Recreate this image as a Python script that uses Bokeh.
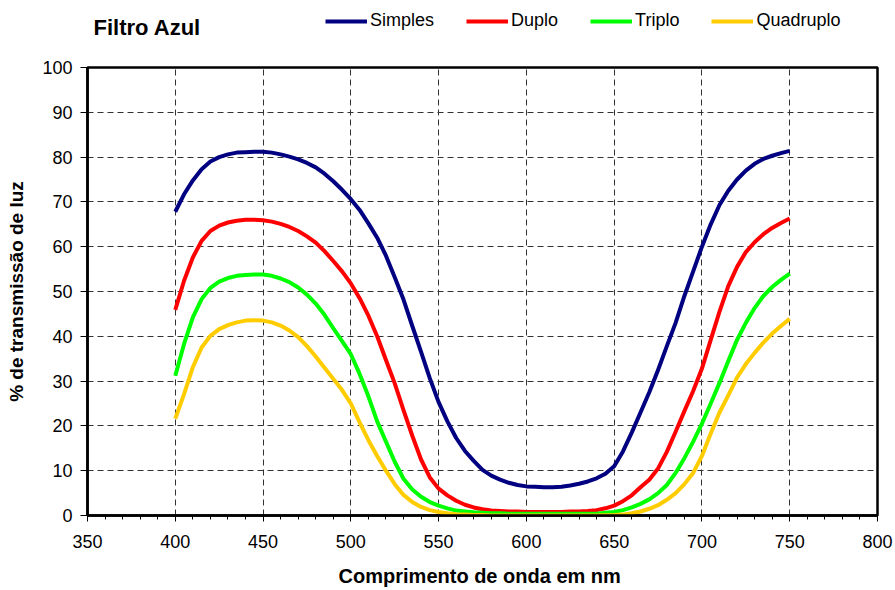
from bokeh.plotting import figure
from bokeh.layouts import column
from bokeh.models import Range1d, Legend, LegendItem, SingleIntervalTicker, Label
from bokeh.embed import file_html
from bokeh.resources import INLINE

wavelength = list(range(400, 751, 5))

simples = [67.8, 71.7, 74.8, 77.3, 79.0, 80.0, 80.6, 81.0, 81.1, 81.2,
           81.2, 81.0, 80.6, 80.1, 79.5, 78.7, 77.7, 76.3, 74.6, 72.7,
           70.6, 68.2, 65.2, 62.0, 58.0, 53.2, 48.2, 42.3, 36.5, 30.6,
           25.3, 21.0, 17.3, 14.4, 12.2, 10.2, 8.9, 8.0, 7.3, 6.8,
           6.5, 6.4, 6.3, 6.3, 6.4, 6.7, 7.1, 7.6, 8.3, 9.3,
           11.0, 14.3, 18.5, 23.0, 27.5, 32.5, 37.8, 43.0, 49.0, 54.5,
           60.0, 65.0, 69.3, 72.5, 75.0, 77.0, 78.5, 79.6, 80.3, 80.9,
           81.4]
duplo = [45.9, 52.4, 57.6, 61.3, 63.5, 64.7, 65.4, 65.8, 66.0, 66.0,
         65.9, 65.6, 65.1, 64.4, 63.5, 62.3, 60.9, 59.0, 56.8, 54.5,
         51.8, 48.5, 44.6, 40.0, 34.7, 29.5, 23.5, 17.8, 12.5, 8.5,
         6.0, 4.5, 3.3, 2.4, 1.8, 1.4, 1.1, 1.0, 0.9, 0.9,
         0.8, 0.8, 0.8, 0.8, 0.8, 0.9, 0.9, 1.0, 1.2, 1.6,
         2.2, 3.2, 4.5, 6.3, 8.0, 10.5, 14.2, 18.7, 23.3, 27.8,
         32.8, 39.2, 45.5, 51.2, 55.5, 58.8, 61.0, 62.8, 64.2, 65.3,
         66.3]
triplo = [31.2, 38.3, 44.2, 48.3, 50.8, 52.2, 53.0, 53.5, 53.7, 53.8,
          53.8, 53.5, 52.9, 52.1, 50.9, 49.3, 47.3, 44.8, 41.8, 38.9,
          36.0, 31.6, 26.6, 21.0, 16.5, 12.0, 8.2, 5.8, 4.2, 3.0,
          2.2, 1.6, 1.1, 0.9, 0.7, 0.6, 0.5, 0.5, 0.4, 0.4,
          0.4, 0.4, 0.4, 0.4, 0.4, 0.4, 0.4, 0.4, 0.4, 0.6,
          0.8, 1.2, 1.8, 2.6, 3.6, 5.0, 6.8, 9.5, 12.8, 16.5,
          20.5, 25.0, 29.6, 34.5, 39.2, 43.0, 46.3, 49.0, 51.0, 52.6,
          54.0]
quadruplo = [21.6, 27.1, 33.1, 37.5, 40.1, 41.6, 42.5, 43.1, 43.5, 43.6,
             43.5, 43.1, 42.4, 41.3, 39.8, 37.8, 35.5, 33.0, 30.5, 28.0,
             25.0, 20.8, 16.8, 13.3, 10.0, 7.0, 4.6, 3.0, 1.9, 1.2,
             0.8, 0.5, 0.3, 0.2, 0.1, 0.1, 0.0, 0.0, 0.0, 0.0,
             0.0, 0.0, 0.0, 0.0, 0.0, 0.0, 0.0, 0.0, 0.0, 0.05,
             0.1, 0.2, 0.5, 0.9, 1.5, 2.3, 3.5, 5.0, 7.0, 9.5,
             13.3, 18.3, 23.0, 26.8, 30.8, 33.8, 36.3, 38.6, 40.6, 42.3,
             43.9]

series_names = ["Simples", "Duplo", "Triplo", "Quadruplo"]
series_values = [simples, duplo, triplo, quadruplo]
series_colors = ["#000080", "#FF0000", "#00FF00", "#FFCC00"]
chart_title = "Filtro Azul"

FONT = "Liberation Sans"
HEADER_H = 50
FRAME_LEFT = 87

# ---- header: title + horizontal legend (frame aligned with the chart's frame) ----
head = figure(width=895, height=HEADER_H, x_range=Range1d(0, 1), y_range=Range1d(0, 1),
              x_axis_type=None, y_axis_type=None, title=None,
              output_backend="svg", toolbar_location=None,
              min_border_left=FRAME_LEFT, min_border_right=18, min_border_top=0, min_border_bottom=0)
head.outline_line_color = None
head.background_fill_color = "white"
head.border_fill_color = "white"
head.grid.visible = False

head.add_layout(Label(x=93 - FRAME_LEFT, y=HEADER_H - 27, x_units="screen", y_units="screen",
                      text=chart_title, text_font=FONT, text_font_size="22px",
                      text_font_style="bold", text_color="black", text_baseline="middle"))

nan = float("nan")
items = []
for name, col in zip(series_names, series_colors):
    r = head.line(x=[nan], y=[nan], line_color=col, line_width=4)
    items.append(LegendItem(label=name, renderers=[r]))

legend = Legend(items=items, location=(325 - FRAME_LEFT, HEADER_H - 31), orientation="horizontal",
                glyph_width=42, glyph_height=20, label_standoff=3, spacing=32,
                padding=0, margin=0, border_line_alpha=0, background_fill_alpha=0,
                label_text_font=FONT, label_text_font_size="18px", label_text_color="black")
head.add_layout(legend, "center")

# ---- main chart ----
p = figure(width=895, height=590 - HEADER_H, x_range=Range1d(350, 800), y_range=Range1d(0, 100),
           title=None, output_backend="svg", toolbar_location=None,
           min_border_left=FRAME_LEFT, min_border_right=18, min_border_top=67 - HEADER_H,
           min_border_bottom=75)
p.background_fill_color = "white"
p.border_fill_color = "white"
p.outline_line_color = "black"
p.outline_line_width = 2.5

p.xaxis.ticker = SingleIntervalTicker(interval=50, num_minor_ticks=5)
p.yaxis.ticker = SingleIntervalTicker(interval=10, num_minor_ticks=0)
for ax in (p.xaxis, p.yaxis):
    ax.axis_line_color = "black"
    ax.axis_line_width = 2.5
    ax.major_tick_line_color = "black"
    ax.major_tick_line_width = 1
    ax.major_tick_in = 0
    ax.minor_tick_in = 0
    ax.major_label_text_font = FONT
    ax.major_label_text_font_size = "18px"
    ax.major_label_text_color = "black"
    ax.axis_label_text_font = FONT
    ax.axis_label_text_font_style = "bold"
    ax.axis_label_text_color = "black"
p.xaxis.axis_label_text_font_size = "20px"
p.yaxis.axis_label_text_font_size = "19px"
p.xaxis.major_tick_out = 6
p.xaxis.minor_tick_out = 4
p.xaxis.minor_tick_line_color = "black"
p.yaxis.major_tick_out = 7
p.yaxis.minor_tick_line_color = None
p.xaxis.major_label_standoff = 13
p.yaxis.major_label_standoff = 8
p.xaxis.axis_label = "Comprimento de onda em  nm"
p.yaxis.axis_label = "% de transmissão de luz"
p.xaxis.axis_label_standoff = 14
p.yaxis.axis_label_standoff = 12

for g in (p.xgrid, p.ygrid):
    g.grid_line_color = "#333333"
    g.grid_line_dash = "6 4"
    g.grid_line_width = 1

for vals, col in zip(series_values, series_colors):
    p.line(wavelength, vals, line_color=col, line_width=4, line_join="round")

layout = column(head, p, spacing=0)
open("out.html", "w").write(file_html(layout, INLINE))
